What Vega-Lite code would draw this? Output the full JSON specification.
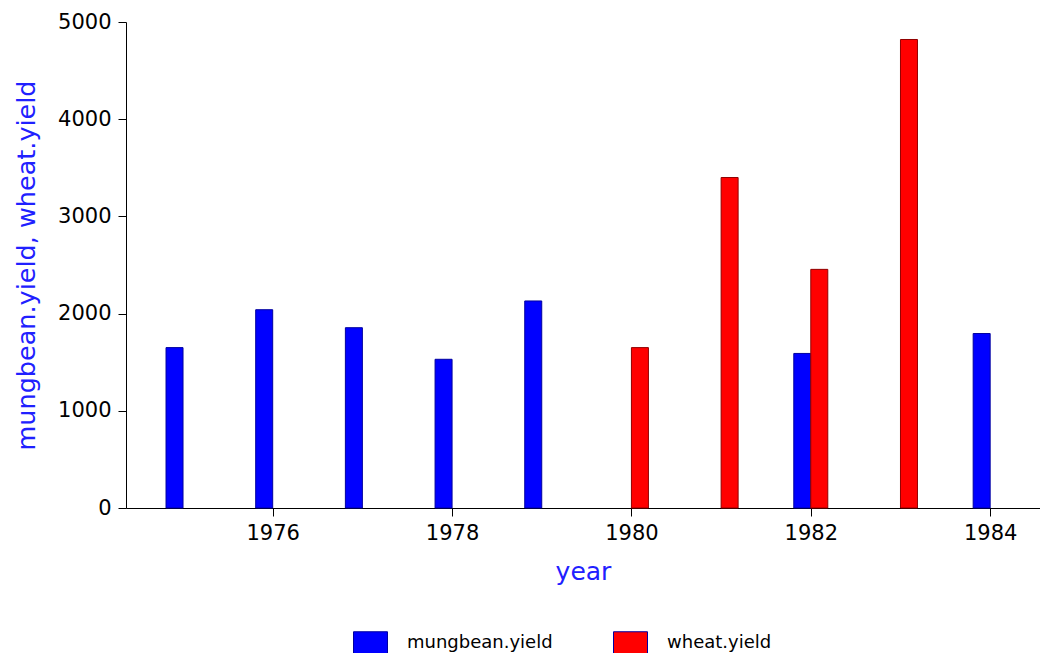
{
  "$schema": "https://vega.github.io/schema/vega-lite/v6.json",
  "width": 914,
  "height": 486,
  "autosize": "none",
  "padding": {"left": 126, "top": 22, "right": 0, "bottom": 145},
  "background": "white",
  "config": {"view": {"stroke": null}, "font": "DejaVu Sans"},
  "data": {
    "values": [
      {"year": 1975, "series": "mungbean.yield", "yield": 1650},
      {"year": 1976, "series": "mungbean.yield", "yield": 2040},
      {"year": 1977, "series": "mungbean.yield", "yield": 1855},
      {"year": 1978, "series": "mungbean.yield", "yield": 1530},
      {"year": 1979, "series": "mungbean.yield", "yield": 2130},
      {"year": 1982, "series": "mungbean.yield", "yield": 1590},
      {"year": 1984, "series": "mungbean.yield", "yield": 1795},
      {"year": 1980, "series": "wheat.yield", "yield": 1650},
      {"year": 1981, "series": "wheat.yield", "yield": 3400},
      {"year": 1982, "series": "wheat.yield", "yield": 2455},
      {"year": 1983, "series": "wheat.yield", "yield": 4820}
    ]
  },
  "encoding": {
    "x": {
      "field": "year",
      "type": "quantitative",
      "scale": {"domain": [1974.42, 1984.5], "nice": false, "zero": false},
      "axis": {
        "values": [1976, 1978, 1980, 1982, 1984],
        "format": "d",
        "title": "year",
        "grid": false,
        "domainColor": "black",
        "tickColor": "black",
        "tickSize": 8,
        "labelFontSize": 21,
        "labelColor": "black",
        "labelPadding": 6,
        "labelFlush": false,
        "titleColor": "#2020ff",
        "titleFontSize": 25,
        "titleFontWeight": "normal",
        "titlePadding": 16
      }
    },
    "y": {
      "field": "yield",
      "type": "quantitative",
      "scale": {"domain": [0, 5000], "nice": false},
      "axis": {
        "values": [0, 1000, 2000, 3000, 4000, 5000],
        "format": "d",
        "title": "mungbean.yield, wheat.yield",
        "grid": false,
        "domainColor": "black",
        "tickColor": "black",
        "tickSize": 8,
        "labelFontSize": 21,
        "labelColor": "black",
        "labelPadding": 7,
        "labelFlush": false,
        "titleColor": "#2020ff",
        "titleFontSize": 25.5,
        "titleFontWeight": "normal",
        "titlePadding": 18
      }
    },
    "color": {
      "field": "series",
      "type": "nominal",
      "scale": {"domain": ["mungbean.yield", "wheat.yield"], "range": ["#0000ff", "#ff0000"]},
      "legend": {
        "title": null,
        "orient": "none",
        "direction": "horizontal",
        "legendX": 227,
        "legendY": 603,
        "padding": 0,
        "symbolType": "M-1,-0.647H1V0.647H-1Z",
        "symbolSize": 1156,
        "symbolStrokeWidth": 1,
        "symbolOpacity": 1,
        "labelFontSize": 18,
        "labelColor": "black",
        "labelOffset": 19,
        "columnPadding": 58
      }
    }
  },
  "layer": [
    {
      "transform": [{"filter": "datum.series == 'mungbean.yield'"}],
      "mark": {"type": "bar", "width": 17, "xOffset": -8.5, "stroke": "#0000a0", "strokeWidth": 1, "opacity": 1}
    },
    {
      "transform": [{"filter": "datum.series == 'wheat.yield'"}],
      "mark": {"type": "bar", "width": 17, "xOffset": 8.5, "stroke": "#900000", "strokeWidth": 1, "opacity": 1}
    }
  ]
}
